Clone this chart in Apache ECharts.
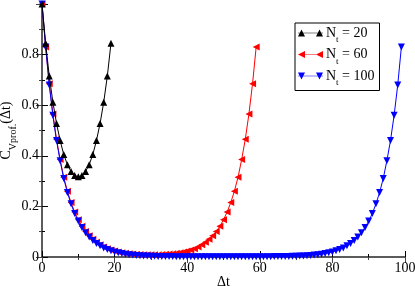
<!DOCTYPE html>
<html><head><meta charset="utf-8">
<script src="https://cdn.jsdelivr.net/npm/echarts@6/dist/echarts.min.js"></script>
<style>html,body{margin:0;padding:0;background:#fff}#c{width:415px;height:286px}</style>
</head><body><div id="c"></div>
<script>
// Data
var n20 = [1.0,0.845,0.715,0.612,0.528,0.46,0.405,0.365,0.338,0.322,0.317,0.322,0.338,0.365,0.405,0.46,0.528,0.612,0.715,0.845];
var n60 = [1.0,0.83,0.685,0.565,0.465,0.385,0.315,0.26,0.215,0.178,0.147,0.122,0.101,0.084,0.07,0.058,0.048,0.04,0.033,0.028,
           0.024,0.02,0.017,0.015,0.013,0.012,0.011,0.01,0.009,0.009,0.009,0.009,0.009,0.01,0.011,0.012,0.013,0.015,0.017,0.02,
           0.024,0.028,0.033,0.04,0.048,0.058,0.07,0.084,0.101,0.122,0.147,0.178,0.215,0.26,0.315,0.385,0.465,0.565,0.685,0.83];
var n100 = [1.0,0.83,0.68,0.56,0.46,0.38,0.31,0.255,0.21,0.172,0.142,0.117,0.096,0.079,0.065,0.053,0.044,0.036,0.03,0.025,
            0.02,0.017,0.014,0.011,0.009,0.008,0.006,0.005,0.004,0.004,0.003,
            0.003,0.002,0.002,0.002,0.002,0.002,
            0.001,0.001,0.001,0.001,0.001,0.001,0.001,0.001,0.001,0.001,0.001,0.001,0.001,0.001,0.001,0.001,0.001,0.001,0.001,0.001,0.001,0.001,0.001,0.001,0.001,0.001,0.001,
            0.002,0.002,0.002,0.002,0.002,0.003,
            0.003,0.004,0.004,0.005,0.006,0.008,0.009,0.011,0.014,0.017,0.02,0.025,0.03,0.036,0.044,0.053,0.065,0.079,0.096,0.117,
            0.142,0.172,0.21,0.255,0.31,0.38,0.46,0.56,0.68,0.83];
var seriesNames = ['N20','N60','N100'];
var legendLabels = {N20:'20', N60:'60', N100:'100'};
var xTickLabels = ['0','20','40','60','80','100'];
var yTickLabels = ['0','0.2','0.4','0.6','0.8'];

function pairs(arr){ return arr.map(function(v,i){ return [i,v]; }); }

var FONT = 'Liberation Serif';
var chart = echarts.init(document.getElementById('c'), null, {renderer:'canvas'});

var iconUp = 'path://M0 3.2H25V3.8H0Z M0 7L3.5 0L7 7Z M18 7L21.5 0L25 7Z';
var iconLeft = 'path://M0 3.2H25V3.8H0Z M0 3.5L7 0L7 7Z M18 3.5L25 0L25 7Z';
var iconDown = 'path://M0 3.2H25V3.8H0Z M0 0L7 0L3.5 7Z M18 0L25 0L21.5 7Z';

chart.setOption({
  animation:false,
  backgroundColor:'#fff',
  textStyle:{fontFamily:FONT},
  grid:{left:42,right:10,top:4,bottom:29,containLabel:false,outerBoundsMode:'none'},
  legend:{
    orient:'vertical', left:295, top:23,
    borderColor:'#000', borderWidth:1, backgroundColor:'#fff',
    padding:[3,5,3,3], itemGap:3, itemWidth:25, itemHeight:7,
    data:[{name:'N20',icon:iconUp},{name:'N60',icon:iconLeft},{name:'N100',icon:iconDown}],
    formatter:function(n){ return '{n|N}{s|t}{n| = '+legendLabels[n]+'}'; },
    textStyle:{
      fontFamily:FONT, color:'#000', padding:[0,0,0,-2],
      rich:{
        n:{fontFamily:FONT,fontSize:14,lineHeight:13,color:'#000'},
        s:{fontFamily:FONT,fontSize:9,lineHeight:8,padding:[9,0,0,0],verticalAlign:'top',color:'#000'}
      }
    }
  },
  xAxis:[{
    type:'value', min:0, max:100, interval:20, position:'bottom',
    name:'\u0394t', nameLocation:'middle', nameGap:18, nameMoveOverlap:false,
    nameTextStyle:{fontFamily:FONT,fontSize:14,color:'#000'},
    axisLine:{lineStyle:{color:'#000',width:1.5}},
    axisTick:{inside:true,length:6,lineStyle:{color:'#000'}},
    minorTick:{show:true,splitNumber:2,length:3,lineStyle:{color:'#000'}},
    splitLine:{show:false},
    axisLabel:{margin:4,fontFamily:FONT,fontSize:14,color:'#000',
      formatter:function(v){ return xTickLabels[Math.round(v/20)]; }}
  },{
    type:'value', min:0, max:100, interval:20, position:'top',
    axisLine:{show:true,lineStyle:{color:'#666',width:1.5}},
    axisTick:{inside:true,length:6,lineStyle:{color:'#444'}},
    minorTick:{show:true,splitNumber:2,length:3,lineStyle:{color:'#444'}},
    splitLine:{show:false}, axisLabel:{show:false}
  }],
  yAxis:[{
    type:'value', min:0, max:1, interval:0.2, position:'left',
    name:'{m|C}{s|Vprof.}{m|(\u0394t)}', nameLocation:'middle', nameGap:29, nameRotate:90, nameMoveOverlap:false,
    nameTextStyle:{fontFamily:FONT,fontSize:14,color:'#000',
      rich:{
        m:{fontFamily:FONT,fontSize:14,lineHeight:14,color:'#000'},
        s:{fontFamily:FONT,fontSize:10,lineHeight:10,color:'#000',padding:[9,0,0,0],verticalAlign:'top'}
      }},
    axisLine:{show:true,lineStyle:{color:'#000',width:1.5}},
    axisTick:{show:true,inside:true,length:6,lineStyle:{color:'#000'}},
    minorTick:{show:true,splitNumber:2,length:3,lineStyle:{color:'#000'}},
    splitLine:{show:false},
    axisLabel:{margin:3,fontFamily:FONT,fontSize:14,color:'#000',
      formatter:function(v){ var i=Math.round(v/0.2); return i<yTickLabels.length ? yTickLabels[i] : ''; }}
  },{
    type:'value', min:0, max:1, interval:0.2, position:'right',
    axisLine:{show:true,lineStyle:{color:'#666',width:1.5}},
    axisTick:{show:true,inside:true,length:6,lineStyle:{color:'#444'}},
    minorTick:{show:true,splitNumber:2,length:3,lineStyle:{color:'#444'}},
    splitLine:{show:false}, axisLabel:{show:false}
  }],
  series:[
    {name:'N60', type:'line', data:pairs(n60), xAxisIndex:0, yAxisIndex:0,
     symbol:'triangle', symbolRotate:90, symbolSize:7, color:'#ff0000',
     lineStyle:{width:1,color:'#ff0000'}, itemStyle:{color:'#ff0000'}, z:2},
    {name:'N100', type:'line', data:pairs(n100), xAxisIndex:0, yAxisIndex:0,
     symbol:'triangle', symbolRotate:180, symbolSize:7, color:'#0000ff',
     lineStyle:{width:1,color:'#0000ff'}, itemStyle:{color:'#0000ff'}, z:3},
    {name:'N20', type:'line', data:pairs(n20), xAxisIndex:0, yAxisIndex:0,
     symbol:'triangle', symbolSize:7, color:'#000',
     lineStyle:{width:1,color:'#000'}, itemStyle:{color:'#000'}, z:4}
  ]
});
</script></body></html>
